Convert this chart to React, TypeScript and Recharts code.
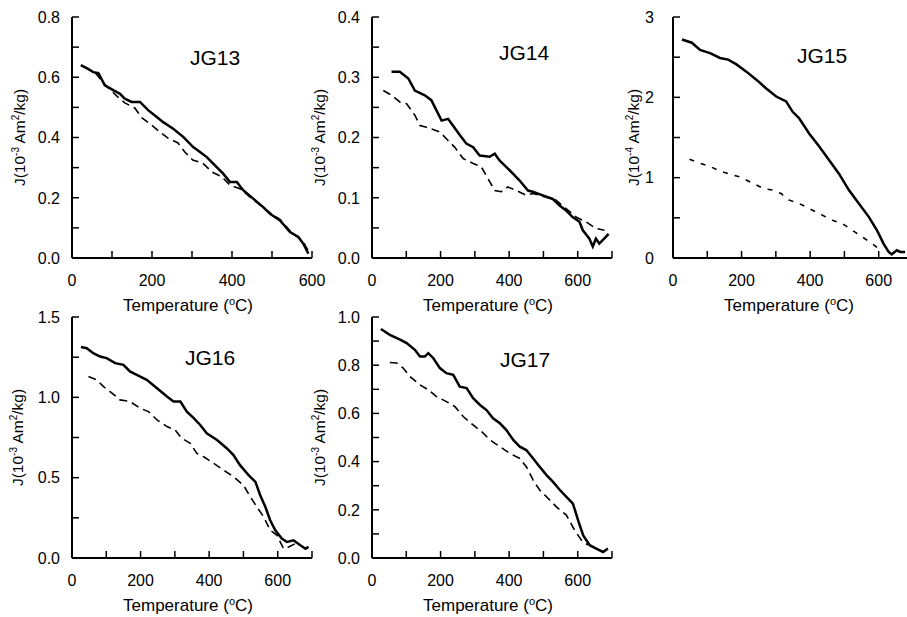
import React from 'react';
import { LineChart, Line, XAxis, YAxis } from 'recharts';

type Pt = [number, number];

// temperature (°C), J value — solid = first run, dashed = second run
const jg13Solid: Pt[] = [
  [22, 0.64], [40, 0.628], [53, 0.617], [66, 0.614], [82, 0.573], [103, 0.557], [120, 0.545],
  [132, 0.529], [149, 0.518], [170, 0.518], [191, 0.49], [212, 0.468], [228, 0.451], [253, 0.429],
  [278, 0.402], [303, 0.368], [320, 0.352], [337, 0.335], [353, 0.313], [378, 0.28], [395, 0.252],
  [412, 0.252], [428, 0.225], [453, 0.197], [478, 0.169], [495, 0.147], [520, 0.125], [545, 0.086],
  [566, 0.07], [578, 0.048], [591, 0.014],
];
const jg13Dashed: Pt[] = [
  [30, 0.635], [60, 0.612], [85, 0.572], [115, 0.534], [132, 0.515], [157, 0.498], [175, 0.465],
  [200, 0.44], [220, 0.418], [240, 0.398], [265, 0.382], [282, 0.352], [302, 0.325], [327, 0.315],
  [350, 0.285], [375, 0.269], [395, 0.242], [420, 0.23], [450, 0.197], [480, 0.165], [500, 0.145],
  [520, 0.128], [545, 0.09], [565, 0.068], [580, 0.05], [592, 0.02],
];

const jg14Solid: Pt[] = [
  [57, 0.309], [81, 0.309], [106, 0.298], [125, 0.278], [154, 0.27], [173, 0.262], [188, 0.245],
  [203, 0.228], [222, 0.231], [236, 0.22], [256, 0.204], [275, 0.19], [295, 0.184], [314, 0.17],
  [343, 0.168], [358, 0.173], [372, 0.162], [392, 0.151], [411, 0.14], [430, 0.129], [455, 0.112],
  [469, 0.11], [498, 0.104], [527, 0.098], [547, 0.087], [566, 0.079], [585, 0.068], [605, 0.06],
  [615, 0.046], [634, 0.032], [644, 0.019], [653, 0.032], [663, 0.024], [682, 0.035], [690, 0.04],
];
const jg14Dashed: Pt[] = [
  [33, 0.278], [57, 0.27], [81, 0.259], [101, 0.256], [125, 0.237], [140, 0.22], [159, 0.217],
  [198, 0.209], [222, 0.195], [241, 0.184], [266, 0.165], [295, 0.157], [319, 0.151], [338, 0.132],
  [358, 0.112], [377, 0.11], [396, 0.118], [421, 0.112], [450, 0.104], [469, 0.107], [508, 0.101],
  [537, 0.096], [566, 0.082], [595, 0.068], [624, 0.06], [653, 0.049], [678, 0.046],
];

const jg15Solid: Pt[] = [
  [26, 2.72], [55, 2.68], [79, 2.59], [108, 2.55], [137, 2.49], [161, 2.47], [185, 2.41],
  [214, 2.32], [243, 2.22], [272, 2.11], [301, 2.01], [330, 1.95], [349, 1.82], [368, 1.74],
  [397, 1.55], [426, 1.39], [455, 1.22], [484, 1.05], [513, 0.845], [542, 0.678], [571, 0.512],
  [595, 0.345], [614, 0.179], [629, 0.075], [638, 0.046], [653, 0.096], [663, 0.075], [677, 0.075],
];
const jg15Dashed: Pt[] = [
  [48, 1.23], [79, 1.18], [108, 1.14], [132, 1.09], [176, 1.03], [195, 1.01], [234, 0.928],
  [263, 0.866], [291, 0.845], [315, 0.803], [339, 0.72], [368, 0.678], [407, 0.595], [436, 0.533],
  [465, 0.47], [494, 0.429], [523, 0.345], [552, 0.262], [581, 0.179], [600, 0.117],
];

const jg16Solid: Pt[] = [
  [26, 1.313], [43, 1.306], [62, 1.275], [82, 1.254], [101, 1.244], [126, 1.213], [150, 1.202],
  [169, 1.161], [189, 1.14], [218, 1.109], [248, 1.057], [277, 1.005], [296, 0.974], [316, 0.974],
  [335, 0.911], [355, 0.87], [374, 0.828], [393, 0.776], [423, 0.734], [452, 0.682], [471, 0.641],
  [490, 0.578], [515, 0.516], [535, 0.474], [549, 0.391], [564, 0.318], [578, 0.235], [593, 0.173],
  [612, 0.121], [627, 0.1], [646, 0.11], [666, 0.079], [681, 0.058], [690, 0.069],
];
const jg16Dashed: Pt[] = [
  [48, 1.13], [72, 1.109], [92, 1.067], [111, 1.036], [140, 0.984], [169, 0.974], [199, 0.932],
  [223, 0.911], [248, 0.859], [277, 0.818], [301, 0.797], [320, 0.745], [345, 0.714], [364, 0.651],
  [384, 0.63], [413, 0.589], [442, 0.547], [471, 0.506], [500, 0.453], [520, 0.381], [539, 0.318],
  [559, 0.256], [578, 0.173], [598, 0.141], [617, 0.058], [632, 0.069], [651, 0.089],
];

const jg17Solid: Pt[] = [
  [26, 0.95], [52, 0.926], [82, 0.906], [101, 0.892], [125, 0.864], [140, 0.836], [154, 0.836],
  [164, 0.85], [179, 0.829], [198, 0.788], [217, 0.767], [237, 0.76], [256, 0.711], [276, 0.705],
  [295, 0.663], [315, 0.635], [334, 0.614], [353, 0.58], [373, 0.559], [392, 0.531], [412, 0.49],
  [431, 0.462], [450, 0.448], [470, 0.413], [489, 0.379], [509, 0.344], [528, 0.316], [548, 0.282],
  [567, 0.254], [586, 0.226], [601, 0.157], [616, 0.094], [635, 0.053], [654, 0.039], [674, 0.025],
  [688, 0.039],
];
const jg17Dashed: Pt[] = [
  [52, 0.811], [72, 0.809], [91, 0.788], [111, 0.753], [140, 0.718], [164, 0.698], [188, 0.67],
  [217, 0.649], [242, 0.628], [266, 0.587], [295, 0.552], [320, 0.524], [344, 0.49], [373, 0.462],
  [402, 0.434], [431, 0.413], [450, 0.379], [470, 0.323], [489, 0.282], [514, 0.247], [538, 0.212],
  [567, 0.178], [591, 0.115], [611, 0.074], [630, 0.053],
];

const xTicks600 = [0, 100, 200, 300, 400, 500, 600];
const xTicks700 = [0, 100, 200, 300, 400, 500, 600, 700];
const xLabels = [0, 200, 400, 600];

const yTicks13 = [0, 0.1, 0.2, 0.3, 0.4, 0.5, 0.6, 0.7, 0.8];
const yLabels13 = [0, 0.2, 0.4, 0.6, 0.8];
const yTicks14 = [0, 0.05, 0.1, 0.15, 0.2, 0.25, 0.3, 0.35, 0.4];
const yLabels14 = [0, 0.1, 0.2, 0.3, 0.4];
const yTicks15 = [0, 0.5, 1, 1.5, 2, 2.5, 3];
const yLabels15 = [0, 1, 2, 3];
const yTicks16 = [0, 0.25, 0.5, 0.75, 1, 1.25, 1.5];
const yLabels16 = [0, 0.5, 1, 1.5];
const yTicks17 = [0, 0.1, 0.2, 0.3, 0.4, 0.5, 0.6, 0.7, 0.8, 0.9, 1];
const yLabels17 = [0, 0.2, 0.4, 0.6, 0.8, 1];

const FONT = '"Liberation Sans", Arial, Helvetica, sans-serif';
const PLOT_W = 240;
const PLOT_H = 241;
const M_LEFT = 10;
const Y_W = 60;
const M_TOP = 10;
const M_RIGHT = 24;
const PX = M_LEFT + Y_W; // plot left inside the svg

const has = (list: number[], v: number) => list.some((l) => Math.abs(l - v) < 1e-6);

const panels = [
  { title: 'JG13', exp: '-3', left: 72, top: 17, xMax: 600, xTicks: xTicks600, yMax: 0.8, yTicks: yTicks13, yLabels: yLabels13, dec: 1, gap: 12, yLab: 52, tx: 143, ty: 48, solid: jg13Solid, dashed: jg13Dashed, dash: '8 5' },
  { title: 'JG14', exp: '-3', left: 372, top: 17, xMax: 700, xTicks: xTicks700, yMax: 0.4, yTicks: yTicks14, yLabels: yLabels14, dec: 1, gap: 12, yLab: 52, tx: 152, ty: 43, solid: jg14Solid, dashed: jg14Dashed, dash: '8 5' },
  { title: 'JG15', exp: '-4', left: 673, top: 17, xMax: 700, xTicks: xTicks700, yMax: 3, yTicks: yTicks15, yLabels: yLabels15, dec: 0, gap: 19, yLab: 39, tx: 149, ty: 46, solid: jg15Solid, dashed: jg15Dashed, dash: '5 7' },
  { title: 'JG16', exp: '-3', left: 72, top: 317, xMax: 700, xTicks: xTicks700, yMax: 1.5, yTicks: yTicks16, yLabels: yLabels16, dec: 1, gap: 12, yLab: 54, tx: 138, ty: 48, solid: jg16Solid, dashed: jg16Dashed, dash: '8 5' },
  { title: 'JG17', exp: '-3', left: 372, top: 317, xMax: 700, xTicks: xTicks700, yMax: 1, yTicks: yTicks17, yLabels: yLabels17, dec: 1, gap: 12, yLab: 52, tx: 153, ty: 50, solid: jg17Solid, dashed: jg17Dashed, dash: '8 5' },
];

const toRows = (pts: Pt[]) => pts.map(([t, j]) => ({ t, j }));

function Panel({ p }: { p: (typeof panels)[number] }) {
  const yTick = (props: any) => {
    const { x, y, payload } = props;
    return (
      <g>
        <line x1={x} x2={x + 7} y1={y} y2={y} stroke="#000" strokeWidth={1.5} />
        {has(p.yLabels, payload.value) && (
          <text x={x - p.gap} y={y} dy="0.36em" textAnchor="end" fontSize={16} fontFamily={FONT} fill="#000">
            {payload.value.toFixed(p.dec)}
          </text>
        )}
      </g>
    );
  };
  const xTick = (props: any) => {
    const { x, y, payload } = props;
    return (
      <g>
        <line x1={x} x2={x} y1={y} y2={y - 7} stroke="#000" strokeWidth={1.5} />
        {has(xLabels, payload.value) && (
          <text x={x} y={y + 28} textAnchor="middle" fontSize={16} fontFamily={FONT} fill="#000">
            {payload.value}
          </text>
        )}
      </g>
    );
  };
  const yLabel = () => {
    const cx = PX - p.yLab;
    const cy = M_TOP + PLOT_H / 2;
    return (
      <text transform={`translate(${cx},${cy}) rotate(-90)`} x={0} y={5} textAnchor="middle" fontSize={15.5} fontFamily={FONT} fill="#000">
        J(10<tspan dy={-6} fontSize={10}>{p.exp}</tspan>
        <tspan dy={6}> Am</tspan>
        <tspan dy={-6} fontSize={10}>2</tspan>
        <tspan dy={6}>/kg)</tspan>
      </text>
    );
  };
  const xLabel = () => (
    <g>
      <text x={PX + PLOT_W / 2 - 4} y={M_TOP + PLOT_H + 53} textAnchor="middle" fontSize={17} fontFamily={FONT} fill="#000">
        Temperature (<tspan dy={-6} fontSize={11}>o</tspan>
        <tspan dy={6}>C)</tspan>
      </text>
      <text x={PX + p.tx} y={M_TOP + p.ty} textAnchor="middle" fontSize={21} fontFamily={FONT} fill="#000">
        {p.title}
      </text>
    </g>
  );

  return (
    <div style={{ position: 'absolute', left: p.left - PX, top: p.top - M_TOP }}>
      <LineChart width={PX + PLOT_W + M_RIGHT} height={M_TOP + PLOT_H + 39 + 22} margin={{ top: M_TOP, right: M_RIGHT, bottom: 22, left: M_LEFT }}>
        <XAxis
          type="number"
          dataKey="t"
          domain={[0, p.xMax]}
          allowDataOverflow
          ticks={p.xTicks}
          interval={0}
          height={39}
          tickSize={0}
          tickMargin={0}
          tick={xTick}
          axisLine={{ stroke: '#000', strokeWidth: 2 }}
          label={xLabel}
        />
        <YAxis
          type="number"
          domain={[0, p.yMax]}
          allowDataOverflow
          ticks={p.yTicks}
          interval={0}
          width={Y_W}
          tickSize={0}
          tickMargin={0}
          tick={yTick}
          axisLine={{ stroke: '#000', strokeWidth: 2 }}
          label={yLabel}
        />
        <Line data={toRows(p.dashed)} dataKey="j" type="linear" stroke="#000" strokeWidth={1.6} strokeDasharray={p.dash} dot={false} isAnimationActive={false} />
        <Line data={toRows(p.solid)} dataKey="j" type="linear" stroke="#000" strokeWidth={2.5} dot={false} isAnimationActive={false} />
      </LineChart>
    </div>
  );
}

export default function App() {
  return (
    <div style={{ position: 'absolute', left: 0, top: 0, width: 907, height: 617, overflow: 'hidden', background: '#fff' }}>
      {panels.map((p) => (
        <Panel key={p.title} p={p} />
      ))}
    </div>
  );
}
